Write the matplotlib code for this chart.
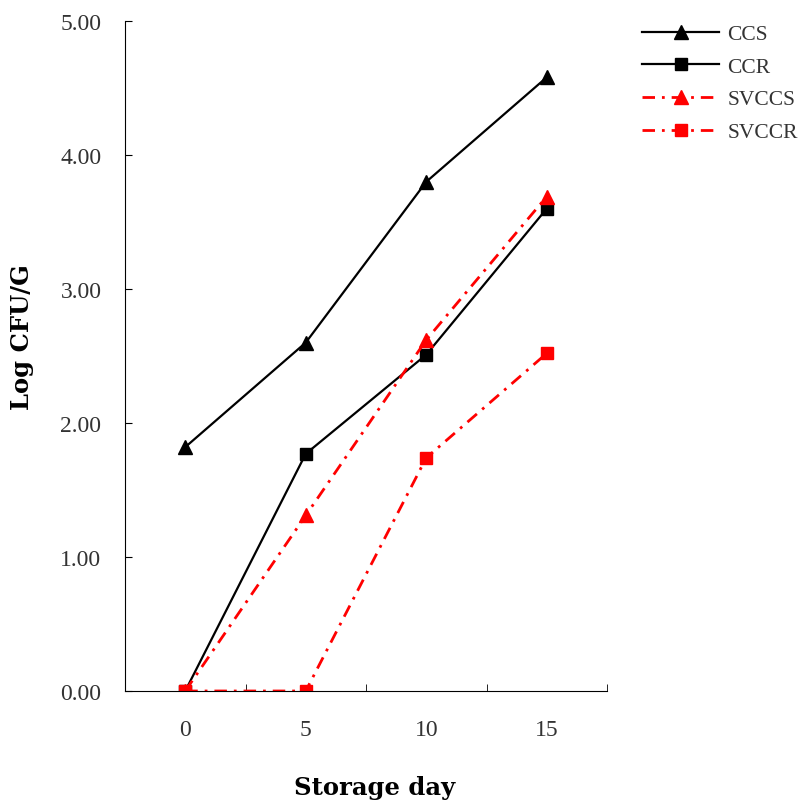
import matplotlib
matplotlib.use("Agg")
import matplotlib.pyplot as plt
from matplotlib.ticker import FixedLocator, FixedFormatter

days = ["0", "5", "10", "15"]
ccs = [1.82, 2.60, 3.80, 4.58]
ccr = [0.00, 1.77, 2.51, 3.60]
svccs = [0.00, 1.31, 2.62, 3.69]
svccr = [0.00, 0.00, 1.74, 2.52]
yticks = [0, 1, 2, 3, 4, 5]

fig = plt.figure(figsize=(8.02, 8.03), dpi=100)
ax = fig.add_axes([125/802, 1-692/803, (607-125)/802, (692-22)/803])

x = list(range(len(days)))
ax.plot(x, ccs, color="black", lw=1.6, marker="^", ms=10, label="CCS")
ax.plot(x, ccr, color="black", lw=1.6, marker="s", ms=8.5, label="CCR")
ax.plot(x, svccs, color="red", lw=2, marker="^", ms=10, label="SVCCS",
        dashes=(4.5, 2.5, 1, 2.5))
ax.plot(x, svccr, color="red", lw=2, marker="s", ms=8.5, label="SVCCR",
        dashes=(4.5, 2.5, 1, 2.5))

ax.set_xlim(-0.5, 3.5)
ax.set_ylim(0, 5)
ax.spines["top"].set_visible(False)
ax.spines["right"].set_visible(False)

ax.xaxis.set_major_locator(FixedLocator(x))
ax.xaxis.set_major_formatter(FixedFormatter(days))
ax.xaxis.set_minor_locator(FixedLocator([0.5, 1.5, 2.5, 3.5]))
ax.tick_params(axis="x", which="major", length=0, pad=20)
ax.tick_params(axis="x", which="minor", direction="in", length=5)
ax.set_yticks(yticks)
ax.set_yticklabels([f"{v:.2f}" for v in yticks])
ax.tick_params(axis="y", direction="in", length=5, pad=17)
for lab in ax.get_xticklabels() + ax.get_yticklabels():
    lab.set_fontfamily("Liberation Serif")
    lab.set_fontsize(17)
    lab.set_color("#333333")

fig.text(375/802, 1-788/803, "Storage day", fontfamily="DejaVu Serif",
         fontweight="bold", fontsize=17.5, ha="center", va="center")
fig.text(22/802, 1-337/803, "Log CFU/G", fontfamily="DejaVu Serif",
         fontweight="bold", fontsize=17.5, ha="center", va="center", rotation=90)

leg = ax.legend(loc="upper left", bbox_to_anchor=(1.0726, 0.9955), frameon=False,
                prop={"family": "Liberation Serif", "size": 15.5},
                handlelength=3.6, labelspacing=0.585, handletextpad=0.37,
                borderaxespad=0, borderpad=0)
for t in leg.get_texts():
    t.set_color("#333333")

fig.savefig("out.png", dpi=100)
